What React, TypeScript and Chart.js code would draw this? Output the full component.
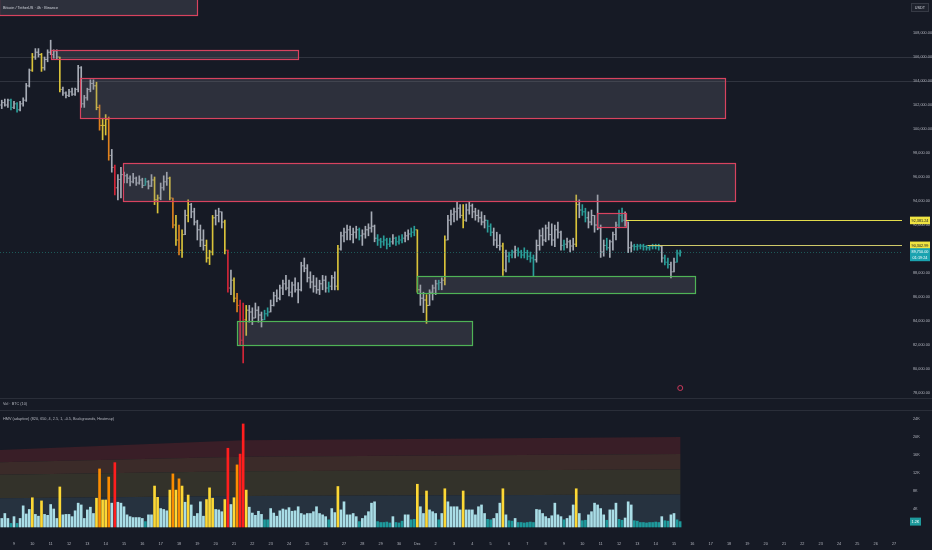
import React, { useEffect, useRef } from 'react';
import { Chart, registerables } from 'chart.js';

Chart.register(...registerables);

// ---- time axis (days counted from 9 Nov 00:00) ----
const FIRST_BAR_DAY = -2 / 3; // 8 Nov 08:00, 4h bars
const BAR_STEP_DAY = 1 / 6;
const X_MIN = -0.7636;
const X_MAX = 48.436;
const dayLabels = ['9','10','11','12','13','14','15','16','17','18','19','20','21','22','23','24','25','26','27','28','29','30','Dec','2','3','4','5','6','7','8','9','10','11','12','13','14','15','16','17','18','19','20','21','22','23','24','25','26','27'];

// ---- prices (thousand USDT) ----
const OPEN_FIRST = 102.0;
const highs = [
102.4,102.5,102.5,102.5,102.3,102.2,102.3,102.6,103.8,105.0,
106.3,106.7,106.7,106.3,106.0,106.6,107.4,106.6,106.6,106.0,
103.5,103.1,103.3,103.4,103.4,105.3,105.2,102.8,103.4,104.1,
104.1,103.9,102.0,100.9,101.2,101.0,98.3,97.0,96.2,96.8,
96.4,96.25,96.1,96.3,96.0,96.1,95.9,95.9,95.7,96.2,
96.0,94.5,95.5,96.1,96.4,96.0,94.25,92.8,92.0,91.6,
93.25,94.1,93.8,93.4,92.4,92.0,91.6,90.75,89.9,92.8,
93.25,93.4,93.1,92.4,89.9,88.25,87.6,86.3,85.75,85.5,
85.3,85.3,85.1,85.5,85.2,84.75,84.9,85.1,85.75,86.4,
86.6,87.0,87.4,87.8,87.4,87.25,87.6,87.2,88.9,89.25,
88.7,88.1,87.8,87.6,87.4,87.8,87.75,87.25,87.8,88.1,
90.3,91.4,91.75,92.0,91.9,91.75,91.9,91.75,91.6,91.9,
92.1,93.1,92.0,91.2,90.9,91.1,90.9,90.9,91.2,91.0,
91.1,91.2,91.4,91.6,91.75,91.9,91.6,87.0,86.4,86.2,
86.6,87.0,87.4,87.4,87.6,91.1,92.8,93.25,93.4,93.9,
93.7,93.7,93.75,93.9,93.75,93.4,93.25,93.1,92.8,92.4,
92.1,91.75,91.4,91.2,90.5,89.9,89.75,89.9,90.25,90.1,
89.9,90.1,89.9,89.75,89.5,90.75,91.6,91.75,92.0,92.25,
92.1,92.0,92.25,91.5,90.75,90.9,90.75,90.9,94.5,94.1,
93.7,93.4,93.1,93.25,92.8,94.5,92.0,90.75,90.9,90.75,
91.4,92.25,93.25,93.4,93.1,92.25,90.6,90.4,90.4,90.4,
90.4,90.3,90.3,90.4,90.4,90.4,90.25,89.5,89.25,88.9,
89.25,89.9,89.9
];
const lows = [
101.7,101.9,101.8,101.6,101.7,101.4,101.5,101.9,102.3,103.5,
104.8,105.8,106.0,104.8,104.9,105.6,106.2,105.9,105.8,103.1,
102.8,102.6,102.7,102.8,102.8,103.1,101.8,101.8,102.4,103.1,
103.3,101.6,99.9,99.1,99.5,97.4,96.4,94.5,94.1,94.25,
95.5,95.5,95.25,95.5,95.3,95.4,95.1,95.3,95.0,95.2,
93.7,93.0,94.1,94.9,95.3,94.1,91.75,90.3,89.5,89.3,
91.2,92.25,92.6,92.0,90.75,90.2,89.9,88.9,88.7,89.5,
92.0,92.25,91.75,89.6,86.4,86.2,85.6,84.75,82.0,80.5,
82.8,83.9,83.7,84.25,83.9,83.5,84.1,84.4,84.75,85.25,
85.6,85.75,86.2,86.6,86.1,86.0,86.4,85.5,86.5,88.1,
87.25,86.75,86.4,86.3,86.2,86.6,86.4,86.4,86.6,86.6,
86.6,89.9,90.6,90.75,90.75,90.5,90.9,90.75,90.3,90.9,
91.1,91.4,90.6,90.3,90.1,90.3,90.0,90.2,90.4,90.3,
90.4,90.5,90.6,90.75,91.0,91.1,86.4,85.3,84.7,83.8,
85.3,85.75,86.2,86.6,86.6,87.0,90.75,92.0,92.25,92.4,
92.6,91.75,92.3,92.9,92.6,92.4,92.25,92.0,91.75,91.4,
91.1,90.3,90.1,89.9,87.8,88.1,88.9,89.25,89.25,89.4,
89.25,89.25,89.1,88.9,87.7,88.9,89.9,90.3,90.6,90.75,
90.3,90.2,90.9,89.9,89.9,90.1,89.75,89.9,90.2,92.6,
92.8,92.25,91.75,92.0,91.4,91.6,89.3,89.4,89.9,89.3,
89.9,90.75,91.75,92.25,91.9,89.7,89.75,89.9,89.9,90.0,
89.9,89.9,89.9,90.0,90.0,89.9,88.9,88.67,88.4,87.6,
88.1,88.9,89.4
];
const closes = [
102.2,102.0,102.4,101.8,102.1,101.6,102.1,102.4,103.6,104.9,
106.0,106.4,106.2,105.1,105.8,106.4,106.2,106.5,106.0,103.3,
103.0,102.8,103.1,102.9,103.3,105.1,102.1,102.6,103.3,103.8,
103.6,101.8,100.3,100.3,100.8,97.8,96.8,95.1,95.8,96.2,
96.1,95.9,95.6,95.9,95.5,95.75,95.3,95.6,95.25,95.75,
94.1,94.25,95.1,95.6,95.9,94.25,92.0,90.75,89.9,91.2,
92.8,93.7,93.1,92.25,91.6,90.75,90.3,89.25,89.75,92.6,
92.8,93.1,92.25,89.9,86.75,87.4,85.9,85.3,82.4,84.1,
84.9,84.75,84.25,84.9,84.5,84.1,84.6,84.75,85.3,86.1,
85.9,86.75,87.1,86.75,86.4,87.0,86.6,86.6,88.6,88.4,
87.6,87.25,86.9,86.6,87.1,87.4,86.75,86.9,87.6,86.9,
90.0,91.1,91.4,91.6,91.2,91.4,91.6,91.1,91.25,91.6,
91.75,91.9,90.9,90.75,90.6,90.75,90.4,90.6,90.9,90.6,
90.75,90.9,91.1,91.25,91.4,91.6,86.6,85.9,85.75,85.3,
86.4,86.75,87.1,87.2,87.4,90.75,92.4,92.9,93.1,93.4,
92.8,92.4,93.25,93.6,93.1,92.8,92.6,92.25,92.4,91.9,
91.4,90.75,90.3,90.25,88.25,89.4,89.5,89.75,89.9,89.75,
89.5,89.7,89.4,89.25,89.1,90.3,91.1,90.75,91.75,91.2,
90.75,91.6,91.4,90.3,90.4,90.6,90.25,90.4,93.7,93.25,
93.1,92.6,92.25,92.8,92.0,91.75,89.75,90.3,90.1,90.6,
91.2,92.0,92.8,92.4,92.25,90.1,90.25,90.2,90.25,90.25,
90.2,90.1,90.25,90.25,90.25,90.2,89.25,88.9,88.7,88.1,
88.9,89.6,89.75
];

// ---- volume (thousand BTC) ----
const volumes = [
1.9,3.0,1.9,0.8,2.3,0.8,1.9,4.7,2.9,3.9,
6.5,2.8,2.4,5.8,2.8,2.6,5.0,4.0,1.9,8.9,
2.7,2.8,2.8,2.3,3.6,5.3,4.9,1.9,3.8,4.4,
3.0,6.4,12.9,6.0,6.0,11.1,5.3,14.3,5.5,5.3,
4.5,2.7,2.3,2.1,2.1,2.1,1.9,1.2,2.7,2.7,
9.1,6.6,4.1,3.9,3.6,8.2,11.8,8.2,10.7,9.1,
5.5,7.1,4.9,2.4,3.0,5.6,2.4,6.1,8.7,6.4,
3.9,3.8,3.4,6.1,17.5,5.0,6.5,13.8,16.2,22.9,
8.2,4.4,3.1,2.6,3.5,2.8,1.6,1.6,4.1,3.1,
2.4,3.6,4.0,3.8,4.3,3.5,3.6,4.5,3.0,2.7,
3.0,3.0,3.4,4.5,3.0,2.7,2.3,1.6,4.1,3.2,
9.0,3.8,5.6,2.7,2.7,3.0,2.3,1.2,1.9,2.5,
3.4,5.3,5.6,1.2,1.0,1.0,1.1,0.9,2.3,1.0,
0.9,1.3,2.7,2.7,1.6,1.7,9.5,4.5,3.0,8.0,
3.8,3.4,3.0,1.6,3.0,8.5,5.6,4.5,4.5,4.5,
3.8,8.0,3.8,3.8,3.8,2.7,4.5,4.9,3.0,1.7,
1.6,1.9,3.0,5.3,8.5,2.7,1.4,1.3,1.9,1.0,
1.0,0.9,1.0,1.1,1.0,3.9,3.8,3.0,2.3,1.9,
2.5,5.3,2.7,2.3,1.6,1.9,2.5,4.9,8.5,3.0,
1.4,1.5,2.7,3.4,5.3,4.9,4.1,2.7,1.5,3.8,
3.8,5.3,1.7,1.5,2.0,5.6,4.9,1.4,1.3,1.0,
1.0,0.9,1.0,1.0,1.1,1.0,2.3,1.4,1.3,2.7,
3.0,1.6,1.2
];
const LOW_CUT = 1.8, YELLOW_CUT = 5.7, ORANGE_CUT = 10, RED_CUT = 14;

// ---- heatmap background bands (thousand BTC, sparse points) ----
const bandDays = [-0.77, 12.5, 36.36];
const bandSlate = [6.4, 6.9, 7.2];
const bandOlive = [11.6, 12.4, 12.8];
const bandBrown = [14.4, 15.6, 16.2];
const bandRed = [17.1, 19.3, 20.0];

// ---- axis ticks ----
const priceTicks = [108000,106000,104000,102000,100000,98000,96000,94000,92000,90000,88000,86000,84000,82000,80000,78000];
const volTicks = [24000,20000,16000,12000,8000,4000];
const refLines = [106000, 104000];

// ---- zones (days / thousand USDT) ----
const zoneFrom = [-0.8, 2.02, 3.6, 5.95, 12.16, 21.98, 31.8];
const zoneTo = [9.98, 15.49, 38.78, 39.33, 24.98, 37.15, 33.38];
const zoneTop = [112.0, 106.58, 104.25, 97.17, 84.0, 87.75, 93.0];
const zoneBottom = [109.5, 105.83, 100.92, 94.0, 82.0, 86.33, 91.83];
const zoneKind = ['s','s','s','s','d','d','s'];

// ---- horizontal levels ----
const levelValues = [92381.24, 90302.99];
const levelFrom = [33.38, 34.55];

const BG = '#161a25';
const FONT = "'Liberation Sans', 'DejaVu Sans', sans-serif";
const TXT = '#b2b5be';
const VOL_COLORS = ['#1e9a9c', '#a9dde6', '#fdd835', '#fb8c00', '#ff1e1e'];
const BAR_COLORS = ['#2a9e99', '#a7acb6', '#d9c33a', '#e0821e', '#d22638'];

const barDay = (k: number) => FIRST_BAR_DAY + k * BAR_STEP_DAY;
const heat = (v: number) => (v >= RED_CUT ? 4 : v >= ORANGE_CUT ? 3 : v >= YELLOW_CUT ? 2 : v < LOW_CUT ? 0 : 1);
const fmtPrice = (v: number) => v.toLocaleString('en-US', { minimumFractionDigits: 2, maximumFractionDigits: 2 });

const P_MAX = 110750;
const P_MIN = 110750 - (398 / 12) * 1000;
const V_MIN = -666.7;
const V_MAX = 28666.7;

export default function App() {
  const ref = useRef<HTMLCanvasElement | null>(null);

  useEffect(() => {
    const canvas = ref.current;
    if (!canvas) return;
    const levels = volumes.map(heat);
    const opens = closes.map((_, k) => (k === 0 ? OPEN_FIRST : closes[k - 1]));
    const band = (arr: number[]) => bandDays.map((d, i) => ({ x: d, y: arr[i] * 1000 }));
    const bandDs = (arr: number[], fill: any, color: string) => ({
      type: 'line', data: band(arr), yAxisID: 'y2', xAxisID: 'x', fill, backgroundColor: color,
      borderWidth: 0, pointRadius: 0, tension: 0, order: 5,
    });

    const bgPlugin = {
      id: 'bg',
      beforeDraw(chart: any) {
        const c = chart.ctx;
        c.save();
        c.fillStyle = BG;
        c.fillRect(0, 0, chart.width, chart.height);
        c.restore();
      },
      beforeDatasetsDraw(chart: any) {
        const c = chart.ctx;
        const y = chart.scales.y, y2 = chart.scales.y2;
        const a = chart.chartArea;
        c.save();
        c.strokeStyle = 'rgba(120,123,134,0.28)';
        c.lineWidth = 1;
        refLines.forEach((v) => {
          const py = Math.round(y.getPixelForValue(v)) + 0.5;
          c.beginPath(); c.moveTo(a.left, py); c.lineTo(chart.width, py); c.stroke();
        });
        // pane separators
        c.strokeStyle = '#2a2e39';
        [y2.top, y2.top + 12].forEach((py: number) => {
          c.beginPath(); c.moveTo(0, Math.round(py) + 0.5); c.lineTo(chart.width, Math.round(py) + 0.5); c.stroke();
        });
        c.restore();
      },
      afterDatasetsDraw(chart: any) {
        const c = chart.ctx;
        const x = chart.scales.x, y = chart.scales.y;
        const a = chart.chartArea;
        c.save();
        c.beginPath();
        c.rect(a.left, y.top, a.right - a.left, y.bottom - y.top);
        c.clip();
        // open / close ticks
        closes.forEach((cl, k) => {
          const px = x.getPixelForValue(barDay(k));
          c.fillStyle = BAR_COLORS[levels[k]];
          c.fillRect(px - 1.5, y.getPixelForValue(opens[k] * 1000) - 0.5, 1, 1);
          c.fillRect(px + 0.5, y.getPixelForValue(cl * 1000) - 0.5, 1, 1);
        });
        // current price line
        const cp = y.getPixelForValue(closes[closes.length - 1] * 1000);
        c.strokeStyle = 'rgba(38,166,154,0.45)';
        c.setLineDash([1, 2]);
        c.beginPath(); c.moveTo(a.left, Math.round(cp) + 0.5); c.lineTo(a.right, Math.round(cp) + 0.5); c.stroke();
        c.setLineDash([]);
        // zones
        zoneFrom.forEach((f, i) => {
          const x1 = x.getPixelForValue(f), x2 = x.getPixelForValue(zoneTo[i]);
          const y1 = y.getPixelForValue(zoneTop[i] * 1000), y2p = y.getPixelForValue(zoneBottom[i] * 1000);
          c.fillStyle = 'rgba(120,123,134,0.24)';
          c.fillRect(x1, y1, x2 - x1, y2p - y1);
          c.strokeStyle = zoneKind[i] === 's' ? '#d8435f' : '#4fb356';
          c.lineWidth = 1.2;
          c.strokeRect(Math.round(x1) + 0.5, Math.round(y1) + 0.5, Math.round(x2 - x1), Math.round(y2p - y1));
        });
        // levels
        c.lineWidth = 1;
        levelValues.forEach((v, i) => {
          const py = Math.round(y.getPixelForValue(v)) + 0.5;
          c.strokeStyle = i === 0 ? '#e3dc4c' : '#cfc96a';
          c.beginPath(); c.moveTo(x.getPixelForValue(levelFrom[i]), py); c.lineTo(a.right, py); c.stroke();
        });
        c.restore();
      },
      afterDraw(chart: any) {
        const c = chart.ctx;
        const y = chart.scales.y, y2 = chart.scales.y2, x = chart.scales.x;
        c.save();
        c.textBaseline = 'middle';
        c.font = `3.8px ${FONT}`;
        c.fillStyle = '#d1d4dc';
        c.fillText('Bitcoin / TetherUS · 4h · Binance', 3, 7.5);
        c.fillStyle = TXT;
        c.fillText('Vol · BTC (10)', 3, y2.top + 5.5);
        c.fillText('HMV (adaptive) (820, 650, 4, 2.5, 1, -0.5, Backgrounds, Heatmap)', 3, y2.top + 21);
        // USDT box
        c.fillStyle = '#1e222d';
        c.fillRect(911, 3, 18, 9);
        c.strokeStyle = '#363a45';
        c.strokeRect(911.5, 3.5, 17, 8);
        c.fillStyle = '#d1d4dc';
        c.textAlign = 'center';
        c.fillText('USDT', 920, 7.8);
        // level labels
        levelValues.forEach((v) => {
          const py = y.getPixelForValue(v);
          c.fillStyle = '#f0e442';
          c.fillRect(910, py - 3.8, 20, 7.6);
          c.fillStyle = '#131722';
          c.fillText(fmtPrice(v), 920, py + 0.2);
        });
        const last = closes[closes.length - 1] * 1000;
        const cp = y.getPixelForValue(last);
        c.fillStyle = '#1aa3b0';
        c.fillRect(910, cp - 3.8, 20, 13);
        c.fillStyle = '#ffffff';
        c.fillText(fmtPrice(last), 920, cp + 0.2);
        c.fillText('01:19:24', 920, cp + 5.6);
        // volume label
        const lv = volumes[volumes.length - 1] * 1000;
        const vp = y2.getPixelForValue(lv);
        c.fillStyle = '#1e9a9c';
        c.fillRect(910, vp - 4, 11, 8);
        c.fillStyle = '#ffffff';
        c.fillText((lv / 1000).toFixed(1) + 'K', 915.5, vp + 0.2);
        // event marker
        c.strokeStyle = '#c8385a';
        c.lineWidth = 1;
        c.beginPath();
        c.arc(x.getPixelForValue(36.34), y.bottom - 10, 2.5, 0, Math.PI * 2);
        c.stroke();
        c.restore();
      },
    };

    const chart = new Chart(canvas, {
      type: 'bar',
      data: {
        datasets: [
          bandDs(bandSlate, 'origin', '#26323f'),
          bandDs(bandOlive, '-1', '#33322a'),
          bandDs(bandBrown, '-1', '#3b2b29'),
          bandDs(bandRed, '-1', '#391e27'),
          {
            type: 'bar', data: volumes.map((v, k) => ({ x: barDay(k), y: v * 1000 })), yAxisID: 'y2', xAxisID: 'x',
            backgroundColor: levels.map((l) => VOL_COLORS[l]), barThickness: 2, grouped: false, borderWidth: 0, order: 1,
          },
          {
            type: 'bar', data: closes.map((_, k) => ({ x: barDay(k), y: [lows[k] * 1000, highs[k] * 1000] })), yAxisID: 'y', xAxisID: 'x',
            backgroundColor: levels.map((l) => BAR_COLORS[l]), barThickness: 1, grouped: false, borderWidth: 0, order: 0,
          },
        ] as any,
      },
      options: {
        animation: false,
        responsive: false,
        devicePixelRatio: 1,
        events: [],
        layout: { padding: 0, autoPadding: false },
        plugins: { legend: { display: false }, tooltip: { enabled: false } },
        scales: {
          x: {
            type: 'linear', min: X_MIN, max: X_MAX, offset: false,
            grid: { display: false, drawTicks: false }, border: { display: false },
            afterBuildTicks: (s: any) => { s.ticks = dayLabels.map((_, i) => ({ value: i })); },
            afterFit: (s: any) => { s.height = 20; s.paddingLeft = 0; s.paddingRight = 0; },
            ticks: {
              autoSkip: false, maxRotation: 0, padding: 12, color: TXT,
              font: { size: 3.8, family: FONT },
              callback: (v: any) => dayLabels[v] ?? '',
            },
          },
          y: {
            type: 'linear', position: 'right', stack: 'panes', stackWeight: 398, min: P_MIN, max: P_MAX,
            grid: { display: false, drawTicks: false }, border: { display: false },
            afterBuildTicks: (s: any) => { s.ticks = priceTicks.map((v) => ({ value: v })); },
            afterFit: (s: any) => { s.width = 30; s.paddingTop = 0; s.paddingBottom = 0; },
            ticks: { padding: 11, color: TXT, font: { size: 3.8, family: FONT }, callback: (v: any) => fmtPrice(Number(v)) },
          },
          y2: {
            type: 'linear', position: 'right', stack: 'panes', stackWeight: 132, min: V_MIN, max: V_MAX,
            grid: { display: false, drawTicks: false }, border: { display: false },
            afterBuildTicks: (s: any) => { s.ticks = volTicks.map((v) => ({ value: v })); },
            afterFit: (s: any) => { s.width = 30; s.paddingTop = 0; s.paddingBottom = 0; },
            ticks: { padding: 11, color: TXT, font: { size: 3.8, family: FONT }, callback: (v: any) => Number(v) / 1000 + 'K' },
          },
        },
      } as any,
      plugins: [bgPlugin],
    });
    return () => chart.destroy();
  }, []);

  return (
    <div style={{ position: 'fixed', left: 0, top: 0, width: 932, height: 550, background: BG }}>
      <canvas ref={ref} width={932} height={550} style={{ width: 932, height: 550, display: 'block' }} />
    </div>
  );
}
